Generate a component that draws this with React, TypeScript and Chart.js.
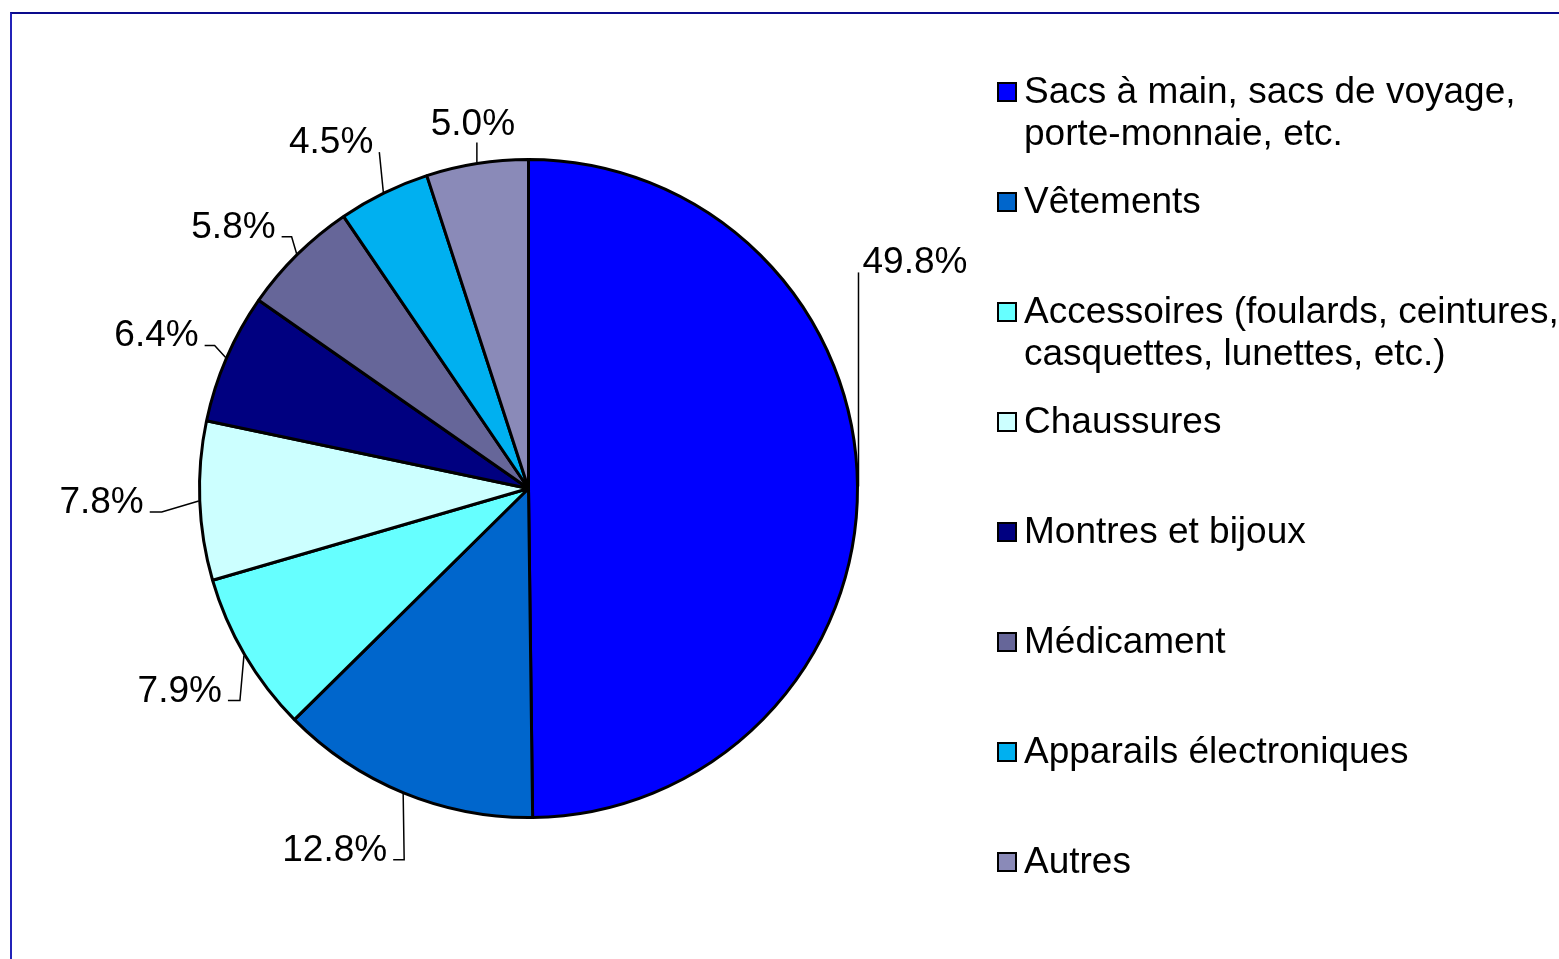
import React, { useEffect, useRef } from "react";
import { Chart, registerables } from "chart.js";

Chart.register(...registerables);

const CATEGORIES: (string | string[])[] = [
  ["Sacs à main, sacs de voyage,", "porte-monnaie, etc."],
  "Vêtements",
  ["Accessoires (foulards, ceintures,", "casquettes, lunettes, etc.)"],
  "Chaussures",
  "Montres et bijoux",
  "Médicament",
  "Apparails électroniques",
  "Autres",
];

const VALUES: number[] = [49.8, 12.8, 7.9, 7.8, 6.4, 5.8, 4.5, 5.0];

const COLORS: string[] = [
  "#0000FF",
  "#0066CC",
  "#66FFFF",
  "#CCFFFF",
  "#000080",
  "#666699",
  "#00B0F0",
  "#8A8AB8",
];

// leader-line layout relative to each arc's mid-edge point: elbow offset, tick length, side
const LABEL_LAYOUT = [
  { dx: 0, dy: -214, tick: 0, side: "right" },
  { dx: 1, dy: 66, tick: 11, side: "left" },
  { dx: -4, dy: 45, tick: 12, side: "left" },
  { dx: -37, dy: 11, tick: 12, side: "left" },
  { dx: -11, dy: -12, tick: 10, side: "left" },
  { dx: -5, dy: -17, tick: 10, side: "left" },
  { dx: -4, dy: -40, tick: 0, side: "left" },
  { dx: 0, dy: -20, tick: 0, side: "top" },
];

const FONT = '37px "Liberation Sans", Arial, sans-serif';

const labelsPlugin = {
  id: "pieLabels",
  afterDatasetsDraw(chart: any) {
    const ctx = chart.ctx;
    const meta = chart.getDatasetMeta(0);
    const data = chart.data.datasets[0].data as number[];
    ctx.save();
    ctx.font = FONT;
    ctx.fillStyle = "#000";
    ctx.strokeStyle = "#000";
    ctx.lineWidth = 1.5;
    meta.data.forEach((arc: any, i: number) => {
      const { x, y, startAngle, endAngle, outerRadius } = arc.getProps(
        ["x", "y", "startAngle", "endAngle", "outerRadius"],
        true
      );
      const mid = (startAngle + endAngle) / 2;
      const ex = x + Math.cos(mid) * (outerRadius + 1);
      const ey = y + Math.sin(mid) * (outerRadius + 1);
      const lay = LABEL_LAYOUT[i];
      const bx = ex + lay.dx;
      const by = ey + lay.dy;
      ctx.beginPath();
      ctx.moveTo(ex, ey);
      ctx.lineTo(bx, by);
      let tx = bx;
      if (lay.side === "left" && lay.tick > 0) {
        tx = bx - lay.tick;
        ctx.lineTo(tx, by);
      }
      ctx.stroke();
      const text = data[i].toFixed(1) + "%";
      ctx.textBaseline = "alphabetic";
      if (lay.side === "right") {
        ctx.textAlign = "left";
        ctx.fillText(text, bx + 4, by + 1);
      } else if (lay.side === "left") {
        ctx.textAlign = "right";
        ctx.fillText(text, tx - 6, by + 1);
      } else {
        ctx.textAlign = "center";
        ctx.fillText(text, bx - 4, by - 8);
      }
    });
    ctx.restore();
  },
};

const legendPlugin = {
  id: "customLegend",
  afterDraw(chart: any) {
    const ctx = chart.ctx;
    const labels = chart.data.labels as (string | string[])[];
    const colors = chart.data.datasets[0].backgroundColor as string[];
    ctx.save();
    ctx.font = FONT;
    ctx.textAlign = "left";
    ctx.textBaseline = "middle";
    const y0 = 91;
    const step = 110;
    labels.forEach((lab, i) => {
      const cy = y0 + step * i;
      ctx.fillStyle = colors[i];
      ctx.fillRect(998, cy - 8, 18, 18);
      ctx.strokeStyle = "#000";
      ctx.lineWidth = 2;
      ctx.strokeRect(998, cy - 8, 18, 18);
      ctx.fillStyle = "#000";
      const lines = Array.isArray(lab) ? lab : [lab];
      lines.forEach((ln, j) => {
        ctx.fillText(ln, 1024, cy + 2 + j * 42);
      });
    });
    ctx.restore();
  },
};

export default function App() {
  const ref = useRef<HTMLCanvasElement | null>(null);
  useEffect(() => {
    document.body.style.margin = "0";
    const canvas = ref.current!;
    const chart = new Chart(canvas, {
      type: "pie",
      data: {
        labels: CATEGORIES as any,
        datasets: [
          {
            data: VALUES,
            backgroundColor: COLORS,
            borderColor: "#000",
            borderWidth: 3,
          },
        ],
      },
      options: {
        animation: false,
        responsive: false,
        maintainAspectRatio: false,
        events: [],
        layout: { padding: { left: 198, right: 700, top: 158, bottom: 140 } },
        plugins: {
          legend: { display: false },
          tooltip: { enabled: false },
        },
      },
      plugins: [labelsPlugin, legendPlugin],
    });
    return () => chart.destroy();
  }, []);
  return (
    <div
      style={{
        position: "fixed",
        left: 0,
        top: 0,
        width: 1559,
        height: 959,
        background: "#fff",
        overflow: "hidden",
      }}
    >
      <div
        style={{
          position: "absolute",
          left: 10,
          top: 12,
          width: 1600,
          height: 1000,
          borderTop: "2px solid #0a0a8c",
          borderLeft: "2px solid #2323b8",
        }}
      />
      <canvas
        ref={ref}
        width={1559}
        height={959}
        style={{ position: "absolute", left: 0, top: 0, width: 1559, height: 959 }}
      />
    </div>
  );
}
